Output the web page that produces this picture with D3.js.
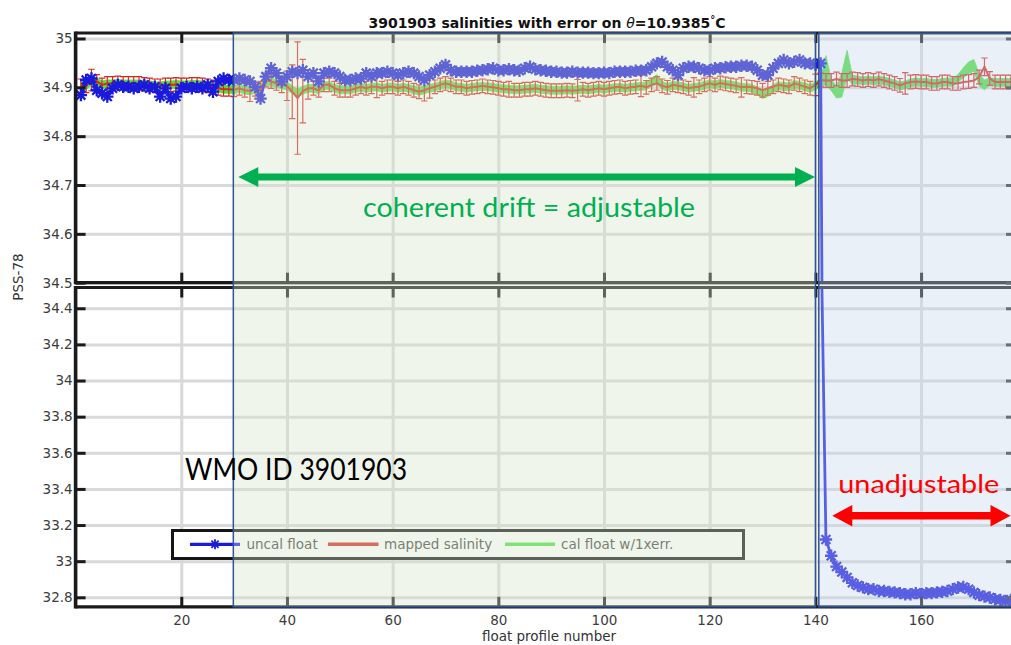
<!DOCTYPE html>
<html><head><meta charset="utf-8">
<script src="https://cdn.jsdelivr.net/npm/d3@7"></script>
<style>
html,body{margin:0;padding:0;background:#fff;overflow:hidden;}
svg{display:block;}
</style></head><body>
<svg id="chart" width="1011" height="645"></svg>
<script>
// ---------------- data ----------------
const profiles = [1,2,3,4,5,6,7,8,9,10,11,12,13,14,15,16,17,18,19,20,21,22,23,24,25,26,27,28,29,30,
31,32,33,34,35,36,37,38,39,40,41,42,43,44,45,46,47,48,49,50,51,52,53,54,55,56,57,58,59,60,
61,62,63,64,65,66,67,68,69,70,71,72,73,74,75,76,77,78,79,80,81,82,83,84,85,86,87,88,89,90,
91,92,93,94,95,96,97,98,99,100,101,102,103,104,105,106,107,108,109,110,111,112,113,114,115,116,117,118,119,120,
121,122,123,124,125,126,127,128,129,130,131,132,133,134,135,136,137,138,139,140,141,142,143,144,145,146,147,148,149,150,
151,152,153,154,155,156,157,158,159,160,161,162,163,164,165,166,167,168,169,170,171,172,173,174,175,176,177];

const uncal = [34.884,34.915,34.918,34.894,34.888,34.881,34.898,34.905,34.901,34.901,
34.898,34.901,34.905,34.898,34.901,34.881,34.898,34.877,34.881,34.898,
34.901,34.898,34.901,34.898,34.905,34.891,34.912,34.918,34.915,34.915,
34.918,34.915,34.912,34.901,34.877,34.922,34.939,34.929,34.912,34.922,
34.932,34.929,34.935,34.922,34.929,34.912,34.929,34.932,34.929,34.922,
34.915,34.915,34.918,34.918,34.929,34.922,34.929,34.929,34.932,34.929,
34.925,34.929,34.932,34.929,34.922,34.915,34.925,34.932,34.939,34.946,
34.935,34.932,34.932,34.932,34.932,34.934,34.935,34.937,34.939,34.935,
34.935,34.937,34.935,34.934,34.939,34.942,34.937,34.935,34.934,34.932,
34.932,34.930,34.930,34.932,34.930,34.930,34.930,34.929,34.929,34.930,
34.929,34.932,34.932,34.932,34.932,34.934,34.934,34.935,34.942,34.949,
34.952,34.942,34.935,34.925,34.939,34.942,34.942,34.939,34.935,34.935,
34.939,34.939,34.941,34.942,34.942,34.944,34.944,34.942,34.935,34.925,
34.925,34.939,34.949,34.956,34.949,34.952,34.956,34.949,34.949,34.946,
34.949,33.12,33.03,32.97,32.94,32.91,32.88,32.865,32.855,32.845,
32.845,32.835,32.835,32.83,32.827,32.823,32.817,32.817,32.823,32.817,
32.823,32.823,32.827,32.83,32.835,32.845,32.854,32.857,32.845,32.827,
32.812,32.804,32.799,32.789,32.786,32.78,32.786];

const mapped = [34.903,34.903,34.915,34.912,34.905,34.908,34.908,34.909,34.908,34.908,
34.908,34.908,34.906,34.905,34.903,34.903,34.905,34.905,34.906,34.905,
34.905,34.906,34.906,34.905,34.903,34.901,34.898,34.896,34.896,34.895,
34.898,34.894,34.893,34.896,34.898,34.915,34.912,34.908,34.905,34.903,
34.891,34.878,34.892,34.898,34.898,34.894,34.905,34.905,34.898,34.894,
34.894,34.894,34.898,34.901,34.898,34.901,34.901,34.898,34.901,34.901,
34.898,34.901,34.898,34.894,34.891,34.894,34.898,34.901,34.905,34.908,
34.905,34.901,34.901,34.898,34.900,34.901,34.903,34.901,34.900,34.898,
34.896,34.896,34.894,34.894,34.896,34.896,34.898,34.896,34.894,34.893,
34.893,34.893,34.894,34.893,34.894,34.896,34.894,34.896,34.898,34.896,
34.898,34.900,34.901,34.898,34.900,34.901,34.903,34.900,34.905,34.908,
34.903,34.900,34.905,34.903,34.901,34.898,34.900,34.901,34.905,34.908,
34.905,34.909,34.907,34.905,34.903,34.900,34.901,34.900,34.898,34.894,
34.898,34.901,34.905,34.903,34.901,34.908,34.905,34.901,34.898,34.905,
34.915,34.914,34.914,34.917,34.914,34.914,34.917,34.916,34.914,34.916,
34.914,34.917,34.914,34.911,34.908,34.904,34.908,34.911,34.912,34.911,
34.911,34.908,34.908,34.911,34.911,34.908,34.908,34.911,34.912,34.914,
34.921,34.942,34.918,34.911,34.911,34.911,34.911];

const mappedErr = [0.014,0.014,0.022,0.014,0.014,0.014,0.014,0.014,0.014,0.014,
0.014,0.014,0.014,0.014,0.014,0.014,0.014,0.014,0.014,0.014,
0.014,0.014,0.014,0.014,0.014,0.014,0.014,0.014,0.014,0.014,
0.014,0.014,0.022,0.014,0.014,0.014,0.014,0.014,0.016,0.03,
0.055,0.115,0.065,0.022,0.014,0.014,0.014,0.014,0.014,0.014,
0.014,0.014,0.014,0.014,0.014,0.014,0.022,0.014,0.014,0.014,
0.014,0.014,0.014,0.014,0.014,0.022,0.02,0.014,0.014,0.014,
0.014,0.014,0.014,0.014,0.014,0.014,0.014,0.014,0.014,0.014,
0.014,0.016,0.014,0.014,0.014,0.014,0.014,0.014,0.014,0.014,
0.014,0.014,0.014,0.014,0.022,0.014,0.014,0.014,0.014,0.014,
0.014,0.014,0.014,0.014,0.014,0.014,0.022,0.014,0.014,0.014,
0.014,0.014,0.014,0.014,0.014,0.014,0.02,0.014,0.014,0.014,
0.014,0.014,0.014,0.014,0.014,0.02,0.014,0.014,0.014,0.014,
0.014,0.014,0.014,0.014,0.014,0.014,0.014,0.014,0.014,0.022,
0.014,0.014,0.014,0.014,0.014,0.014,0.014,0.014,0.014,0.014,
0.014,0.014,0.014,0.014,0.014,0.014,0.022,0.014,0.014,0.014,
0.014,0.014,0.014,0.014,0.014,0.014,0.014,0.014,0.014,0.014,
0.014,0.018,0.014,0.014,0.014,0.014,0.014];

const cal = [34.903,34.903,34.913,34.911,34.905,34.907,34.907,34.908,34.907,34.907,
34.907,34.907,34.906,34.905,34.903,34.903,34.905,34.905,34.906,34.905,
34.905,34.906,34.906,34.905,34.903,34.901,34.898,34.896,34.896,34.895,
34.898,34.894,34.893,34.896,34.898,34.913,34.911,34.908,34.905,34.903,
34.895,34.888,34.894,34.898,34.898,34.895,34.903,34.904,34.898,34.895,
34.895,34.895,34.898,34.900,34.898,34.900,34.901,34.898,34.900,34.901,
34.898,34.900,34.898,34.895,34.892,34.895,34.898,34.900,34.904,34.907,
34.905,34.901,34.900,34.898,34.900,34.901,34.902,34.901,34.900,34.898,
34.897,34.896,34.895,34.895,34.896,34.897,34.898,34.896,34.895,34.894,
34.894,34.894,34.895,34.894,34.895,34.896,34.895,34.896,34.898,34.896,
34.898,34.899,34.900,34.898,34.900,34.901,34.902,34.903,34.910,34.916,
34.904,34.900,34.904,34.903,34.901,34.898,34.900,34.901,34.904,34.907,
34.905,34.908,34.906,34.905,34.903,34.900,34.900,34.898,34.893,34.886,
34.889,34.898,34.903,34.902,34.901,34.906,34.904,34.901,34.898,34.903,
34.910,34.935,34.905,34.890,34.905,34.948,34.915,34.915,34.913,34.915,
34.913,34.915,34.913,34.910,34.907,34.903,34.905,34.909,34.911,34.910,
34.910,34.908,34.908,34.910,34.911,34.910,34.918,34.930,34.940,34.945,
34.915,34.905,34.912,34.910,34.910,34.910,34.910];

const calErr = [0.008,0.008,0.008,0.008,0.008,0.008,0.008,0.008,0.008,0.008,
0.008,0.008,0.008,0.008,0.008,0.008,0.008,0.008,0.008,0.008,
0.008,0.008,0.008,0.008,0.008,0.008,0.008,0.008,0.008,0.008,
0.008,0.008,0.008,0.008,0.008,0.008,0.008,0.008,0.008,0.008,
0.008,0.008,0.008,0.008,0.008,0.008,0.008,0.008,0.008,0.008,
0.008,0.008,0.008,0.008,0.008,0.008,0.008,0.008,0.008,0.008,
0.008,0.008,0.008,0.008,0.008,0.008,0.008,0.008,0.008,0.008,
0.008,0.008,0.008,0.008,0.008,0.008,0.008,0.008,0.008,0.008,
0.008,0.008,0.008,0.008,0.008,0.008,0.008,0.008,0.008,0.008,
0.008,0.008,0.008,0.008,0.008,0.008,0.008,0.008,0.008,0.008,
0.008,0.008,0.008,0.008,0.008,0.008,0.008,0.008,0.008,0.010,
0.008,0.008,0.008,0.008,0.008,0.008,0.008,0.008,0.008,0.008,
0.008,0.008,0.008,0.008,0.008,0.008,0.008,0.008,0.008,0.009,
0.008,0.008,0.008,0.008,0.008,0.008,0.008,0.008,0.008,0.008,
0.008,0.030,0.012,0.012,0.025,0.028,0.010,0.008,0.008,0.008,
0.008,0.008,0.008,0.008,0.008,0.008,0.008,0.008,0.008,0.008,
0.008,0.008,0.008,0.008,0.008,0.008,0.008,0.010,0.012,0.012,
0.012,0.010,0.008,0.008,0.008,0.008,0.008];

const xTicks = [20,40,60,80,100,120,140,160];
const xTickLabels = ["20","40","60","80","100","120","140","160"];
const yTicksTop = [34.5,34.6,34.7,34.8,34.9,35];
const yLabelsTop = ["34.5","34.6","34.7","34.8","34.9","35"];
const yTicksBottom = [32.8,33,33.2,33.4,33.6,33.8,34,34.2,34.4];
const yLabelsBottom = ["32.8","33","33.2","33.4","33.6","33.8","34","34.2","34.4"];
const seriesNames = ["uncal float","mapped salinity","cal float w/1xerr."];
const xLabel = "float profile number";
const yLabel = "PSS-78";

// ---------------- drawing ----------------
const svg = d3.select("#chart");
const L = 75.6, R = 1013;
const x = d3.scaleLinear().domain([0, 177.4]).range([L, R]);

const C_BLUE = "#1a1adc", C_RED = "#d8281e", C_GREEN = "#4fe043";
const tickFont = "13.5px 'DejaVu Sans', sans-serif";

const panels = [
  {id: "top", y: d3.scaleLinear().domain([34.5, 35.0112]).range([282.7, 33]),
   ticks: yTicksTop, labels: yLabelsTop, y0: 33, y1: 282.7},
  {id: "bot", y: d3.scaleLinear().domain([32.7474, 34.515]).range([606.8, 287.5]),
   ticks: yTicksBottom, labels: yLabelsBottom, y0: 287.5, y1: 606.8}
];

const data = profiles.map((p, i) => ({p, u: uncal[i], m: mapped[i], me: mappedErr[i], c: cal[i], ce: calErr[i]}));

const defs = svg.append("defs");
const starPath = (r) => {
  const a = r * 0.72;
  return `M${-r},0L${r},0M0,${-r}L0,${r}M${-a},${-a}L${a},${a}M${-a},${a}L${a},${-a}`;
};

panels.forEach(P => {
  const g = svg.append("g");
  defs.append("clipPath").attr("id", "clip-" + P.id)
    .append("rect").attr("x", L).attr("y", P.y0).attr("width", R - L).attr("height", P.y1 - P.y0);

  // grid
  g.append("g").attr("transform", `translate(${L},0)`)
    .call(d3.axisLeft(P.y).tickValues(P.ticks).tickSize(-(R - L)).tickFormat(""))
    .call(a => a.select(".domain").remove())
    .call(a => a.selectAll("line").attr("stroke", "#d9d9d9").attr("stroke-width", 3));
  g.append("g").attr("transform", `translate(0,${P.y1})`)
    .call(d3.axisBottom(x).tickValues(xTicks).tickSize(-(P.y1 - P.y0)).tickFormat(""))
    .call(a => a.select(".domain").remove())
    .call(a => a.selectAll("line").attr("stroke", "#d9d9d9").attr("stroke-width", 3));

  // data
  const dg = g.append("g").attr("clip-path", `url(#clip-${P.id})`);
  const y = P.y;
  dg.append("path").datum(data)
    .attr("d", d3.area().x(d => x(d.p)).y0(d => y(d.c - d.ce)).y1(d => y(d.c + d.ce)))
    .attr("fill", C_GREEN).attr("stroke", C_GREEN).attr("stroke-width", 0.8);
  const eb = dg.append("g").attr("stroke", C_RED).attr("stroke-width", 1.2).attr("fill", "none");
  eb.selectAll("path.eb").data(data).join("path").attr("class", "eb")
    .attr("d", d => {
      const xx = x(d.p), ya = y(d.m - d.me), yb = y(d.m + d.me), w = 3.2;
      return `M${xx},${ya}L${xx},${yb}M${xx - w},${ya}L${xx + w},${ya}M${xx - w},${yb}L${xx + w},${yb}`;
    });
  dg.append("path").datum(data)
    .attr("d", d3.line().x(d => x(d.p)).y(d => y(d.m)))
    .attr("fill", "none").attr("stroke", C_RED).attr("stroke-width", 2);
  dg.append("path").datum(data)
    .attr("d", d3.line().x(d => x(d.p)).y(d => y(d.u)))
    .attr("fill", "none").attr("stroke", C_BLUE).attr("stroke-width", 2.8);
  dg.append("g").selectAll("path").data(data).join("path")
    .attr("transform", d => `translate(${x(d.p)},${y(d.u)})`)
    .attr("d", starPath(6.2))
    .attr("stroke", C_BLUE).attr("stroke-width", 2.3).attr("fill", "none");

  // spines
  const sp = g.append("g").attr("stroke", "#1a1a1a").attr("stroke-width", 3.2);
  sp.append("line").attr("x1", L).attr("x2", R).attr("y1", P.y0).attr("y2", P.y0);
  sp.append("line").attr("x1", L).attr("x2", R).attr("y1", P.y1).attr("y2", P.y1);
  sp.append("line").attr("x1", L).attr("x2", L).attr("y1", P.y0 - 1.6).attr("y2", P.y1 + 1.6).attr("stroke-width", 3.6);

  // y ticks + labels
  g.append("g").attr("transform", `translate(${L},0)`)
    .call(d3.axisLeft(P.y).tickValues(P.ticks).tickSize(-10).tickPadding(3)
      .tickFormat((d, i) => P.labels[i]))
    .call(a => a.select(".domain").remove())
    .call(a => a.selectAll("line").attr("stroke", "#1a1a1a").attr("stroke-width", 3))
    .call(a => a.selectAll("text").attr("fill", "#3c3c3c").style("font", tickFont));
  // right ticks
  g.append("g").attr("transform", `translate(${R},0)`)
    .call(d3.axisRight(P.y).tickValues(P.ticks).tickSize(-7).tickFormat(""))
    .call(a => a.select(".domain").remove())
    .call(a => a.selectAll("line").attr("stroke", "#333").attr("stroke-width", 3));
  // x ticks top / bottom
  g.append("g").attr("transform", `translate(0,${P.y0})`)
    .call(d3.axisTop(x).tickValues(xTicks).tickSize(-10).tickFormat(""))
    .call(a => a.select(".domain").remove())
    .call(a => a.selectAll("line").attr("stroke", "#1a1a1a").attr("stroke-width", 3));
  g.append("g").attr("transform", `translate(0,${P.y1})`)
    .call(d3.axisBottom(x).tickValues(xTicks).tickSize(-10).tickPadding(9)
      .tickFormat((d, i) => P.id === "bot" ? xTickLabels[i] : ""))
    .call(a => a.select(".domain").remove())
    .call(a => a.selectAll("line").attr("stroke", "#1a1a1a").attr("stroke-width", 3))
    .call(a => a.selectAll("text").attr("fill", "#3c3c3c").style("font", tickFont));
});

// legend
const lg = svg.append("g");
lg.append("rect").attr("x", 172.5).attr("y", 530.5).attr("width", 571).attr("height", 28)
  .attr("fill", "#fff").attr("stroke", "#151515").attr("stroke-width", 3);
const legY = 544.3;
const legItems = [
  {x1: 190, x2: 240, tx: 246.5, color: C_BLUE, star: true, w: 3.2},
  {x1: 328, x2: 378.5, tx: 384, color: C_RED, star: false, w: 3.6},
  {x1: 505, x2: 555, tx: 561, color: C_GREEN, star: false, w: 3.6}
];
legItems.forEach((it, i) => {
  lg.append("line").attr("x1", it.x1).attr("x2", it.x2).attr("y1", legY).attr("y2", legY)
    .attr("stroke", it.color).attr("stroke-width", it.w);
  if (it.star) lg.append("path").attr("transform", `translate(${(it.x1 + it.x2) / 2},${legY})`)
    .attr("d", starPath(5)).attr("stroke", it.color).attr("stroke-width", 1.8).attr("fill", "none");
  lg.append("text").attr("x", it.tx).attr("y", 549).text(seriesNames[i])
    .attr("fill", "#444").style("font", tickFont);
});

// shaded overlay regions
svg.append("rect").attr("x", x(29.85)).attr("y", 33).attr("width", x(140.02) - x(29.85)).attr("height", 606.8 - 33)
  .attr("fill", "rgb(214,229,200)").attr("fill-opacity", 0.37)
  .attr("stroke", "#2f5597").attr("stroke-width", 1.5);
svg.append("rect").attr("x", x(140.65)).attr("y", 33).attr("width", 1030 - x(140.65)).attr("height", 606.8 - 33)
  .attr("fill", "rgb(198,215,236)").attr("fill-opacity", 0.37)
  .attr("stroke", "#2f5597").attr("stroke-width", 1.5);

// title and axis labels
const title = svg.append("text").attr("x", 547).attr("y", 28).attr("text-anchor", "middle")
  .style("font", "bold 14px 'DejaVu Sans', sans-serif").attr("fill", "#111");
title.append("tspan").text("3901903 salinities with error on ");
title.append("tspan").text("θ").style("font-style", "italic").style("font-weight", "normal");
title.append("tspan").text("=10.9385");
title.append("tspan").text("°").attr("dy", -5).style("font-size", "10px");
title.append("tspan").text("C").attr("dy", 5);

svg.append("text").attr("transform", "translate(22.5,277) rotate(-90)").attr("text-anchor", "middle")
  .style("font", tickFont).attr("fill", "#333").text(yLabel);
svg.append("text").attr("x", 549).attr("y", 641).attr("text-anchor", "middle")
  .style("font", tickFont).attr("fill", "#333").text(xLabel);

// annotations
function dblArrow(x1, x2, yc, half, headLen, headHalf, color) {
  const pts = [[x1, yc], [x1 + headLen, yc - headHalf], [x1 + headLen, yc - half], [x2 - headLen, yc - half],
    [x2 - headLen, yc - headHalf], [x2, yc], [x2 - headLen, yc + headHalf], [x2 - headLen, yc + half],
    [x1 + headLen, yc + half], [x1 + headLen, yc + headHalf]];
  svg.append("polygon").attr("points", pts.map(p => p.join(",")).join(" ")).attr("fill", color);
}
dblArrow(238.3, 815, 177, 3.6, 20, 10, "#00b050");
dblArrow(832.3, 1010.5, 515.7, 3.7, 20, 10.7, "#ff0000");

const annFont = "'Lato','Open Sans',sans-serif";
svg.append("text").attr("x", 363).attr("y", 216.5).attr("textLength", 332).attr("lengthAdjust", "spacingAndGlyphs")
  .style("font-family", annFont).style("font-size", "27px").attr("fill", "#00b050").text("coherent drift = adjustable");
svg.append("text").attr("x", 185).attr("y", 480).attr("textLength", 222).attr("lengthAdjust", "spacingAndGlyphs")
  .style("font-family", annFont).style("font-size", "30px").attr("fill", "#000").text("WMO ID 3901903");
svg.append("text").attr("x", 838.3).attr("y", 492.5).attr("textLength", 161).attr("lengthAdjust", "spacingAndGlyphs")
  .style("font-family", annFont).style("font-size", "25px").attr("fill", "#ff0000").text("unadjustable");
</script>
</body></html>
